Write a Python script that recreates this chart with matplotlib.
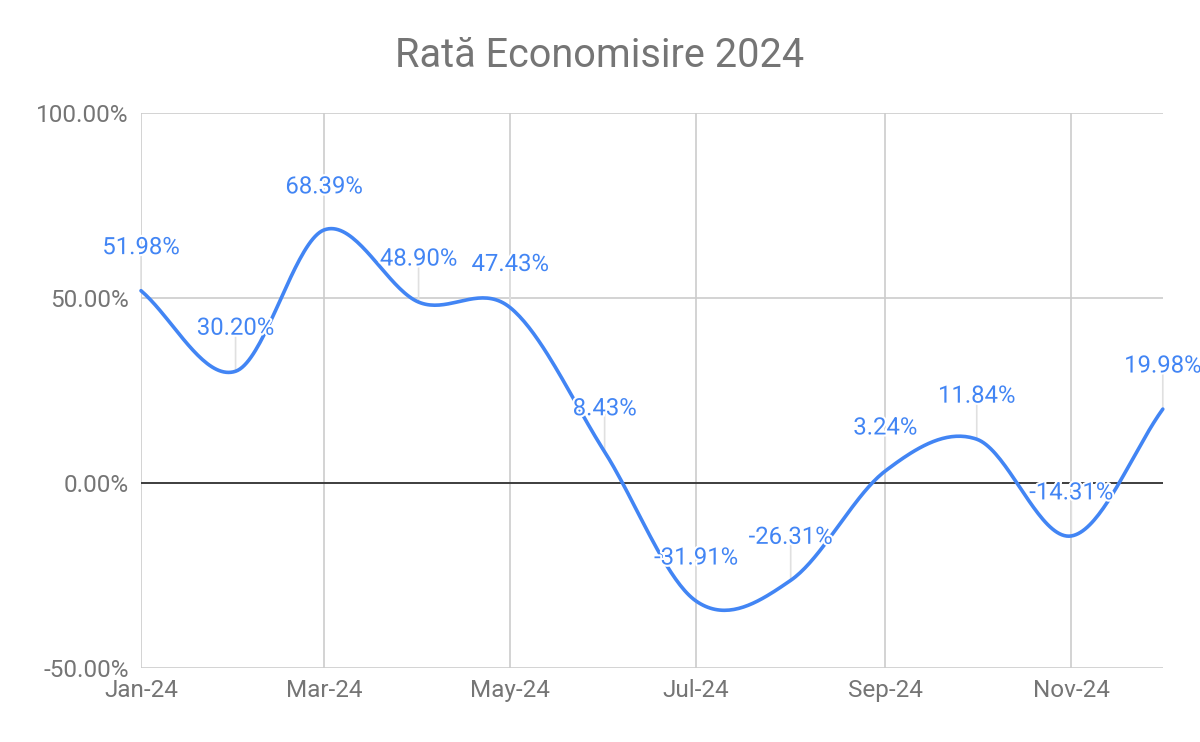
import datetime as dt
import numpy as np
import matplotlib
matplotlib.use('Agg')
import matplotlib.pyplot as plt
import matplotlib.patheffects as pe
from matplotlib.ticker import FuncFormatter

plt.rcParams['font.family'] = ['Roboto', 'DejaVu Sans']

months = [dt.date(2024, m, 1) for m in range(1, 13)]
rates = [51.98, 30.20, 68.39, 48.90, 47.43, 8.43, -31.91, -26.31, 3.24, 11.84, -14.31, 19.98]
tick_months = [1, 3, 5, 7, 9, 11]
tick_labels = ['Jan-24', 'Mar-24', 'May-24', 'Jul-24', 'Sep-24', 'Nov-24']

BLUE = '#4285f4'
GREY_TXT = '#757575'


def day(d):
    return (d - dt.date(2024, 1, 1)).days


def smooth(x, y, n=40):
    # cubic hermite through the points, catmull-rom style slopes
    x = np.asarray(x, float)
    y = np.asarray(y, float)
    m = np.zeros_like(y)
    m[0] = (y[1] - y[0]) / (x[1] - x[0])
    m[-1] = (y[-1] - y[-2]) / (x[-1] - x[-2])
    m[1:-1] = (y[2:] - y[:-2]) / (x[2:] - x[:-2])
    xs, ys = [], []
    for i in range(len(x) - 1):
        h = x[i + 1] - x[i]
        t = np.linspace(0, 1, n, endpoint=False)
        h00 = 2 * t**3 - 3 * t**2 + 1
        h10 = t**3 - 2 * t**2 + t
        h01 = -2 * t**3 + 3 * t**2
        h11 = t**3 - t**2
        xs.append(x[i] + t * h)
        ys.append(h00 * y[i] + h10 * h * m[i] + h01 * y[i + 1] + h11 * h * m[i + 1])
    xs.append([x[-1]])
    ys.append([y[-1]])
    return np.concatenate(xs), np.concatenate(ys)


x = [day(d) for d in months]

fig = plt.figure(figsize=(12, 7.42), dpi=100)
ax = fig.add_axes([0.1175, 0.0997, 0.969 - 0.1175, 0.8477 - 0.0997])

ax.set_xlim(x[0], x[-1])
ax.set_ylim(-50, 100)
ax.set_yticks([-50, 0, 50, 100])
ax.yaxis.set_major_formatter(FuncFormatter(lambda v, p: f'{v:.2f}%'))
ax.set_xticks([day(dt.date(2024, m, 1)) for m in tick_months])
ax.set_xticklabels(tick_labels)

ax.grid(True, color='#cccccc', linewidth=1.2)
ax.axhline(0, color='#333333', linewidth=1.3, zorder=2)
for s in ax.spines.values():
    s.set_visible(False)
ax.tick_params(length=0, labelsize=17.5, labelcolor=GREY_TXT, pad=8)
ax.tick_params(axis='y', pad=9)

sx, sy = smooth(x, rates)
ax.plot(sx, sy, color=BLUE, linewidth=2.6, zorder=4, clip_on=False,
        solid_capstyle='round')

for xi, yi in zip(x, rates):
    ax.annotate('', xy=(xi, yi), xytext=(0, 30), textcoords='offset points',
                xycoords='data', annotation_clip=False,
                arrowprops=dict(arrowstyle='-', color='#e0e0e0', lw=1.2,
                                shrinkA=0, shrinkB=0), zorder=3)
    ax.annotate(f'{yi:.2f}%', xy=(xi, yi), xytext=(0, 31),
                textcoords='offset points', ha='center', va='center',
                fontsize=17.2, color=BLUE, zorder=5, annotation_clip=False,
                path_effects=[pe.withStroke(linewidth=3, foreground='white')])

fig.text(0.5, 0.925, 'Rată Economisire 2024', ha='center', va='center',
         fontsize=28.5, color=GREY_TXT)

fig.savefig('out.png', dpi=100)
